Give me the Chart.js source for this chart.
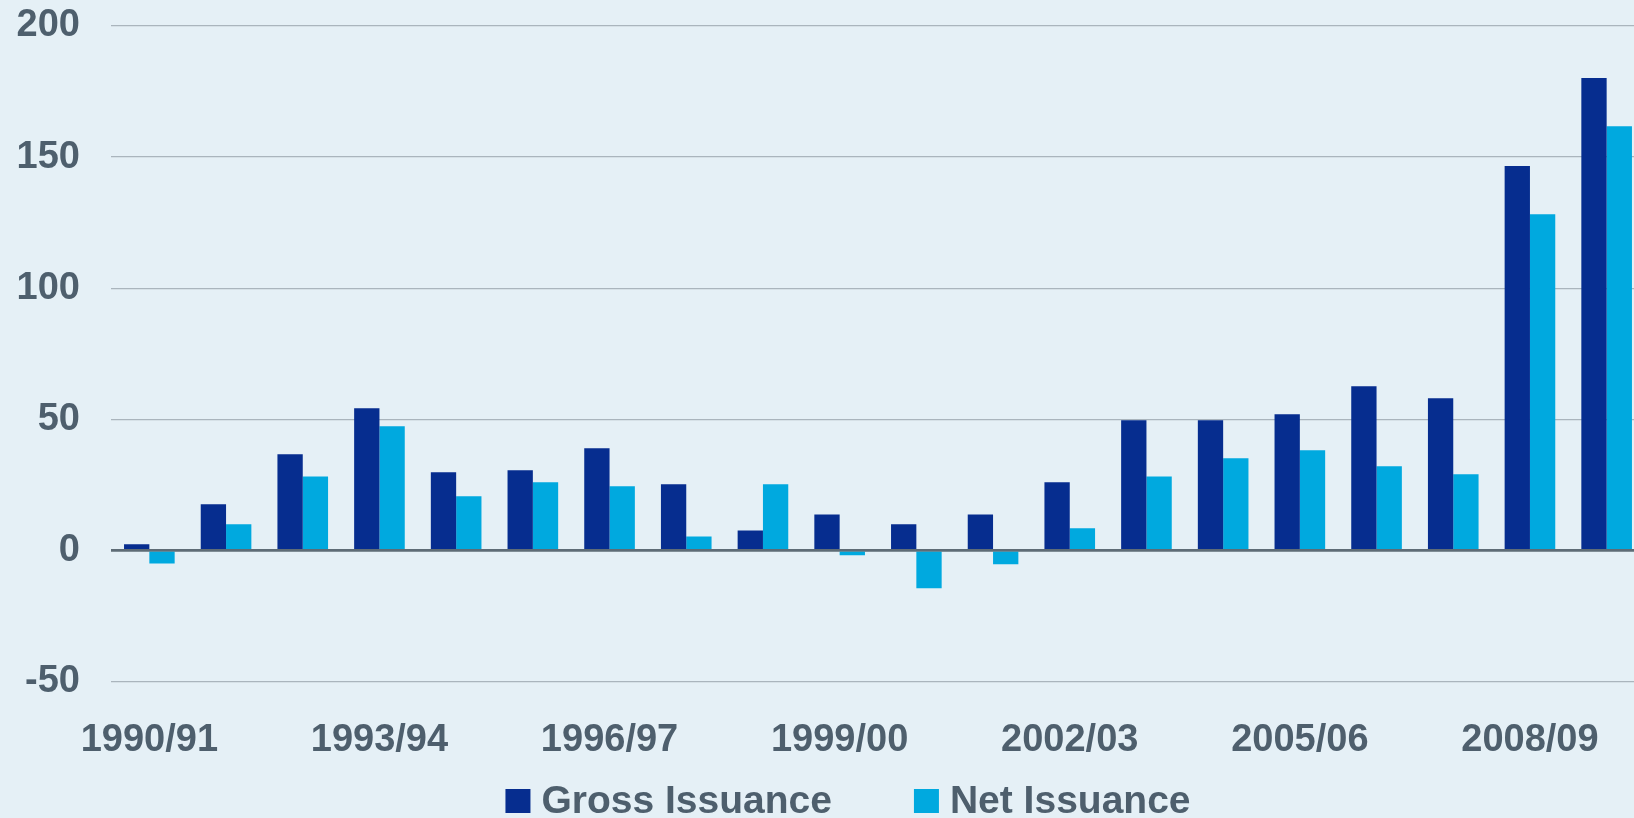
<!DOCTYPE html>
<html>
<head>
<meta charset="utf-8">
<script src="https://cdn.jsdelivr.net/npm/chart.js@4"></script>
<style>
  html, body { margin: 0; padding: 0; background: #e5f0f6; overflow: hidden; }
  #wrap { width: 1645px; height: 818px; }
</style>
</head>
<body>
<div id="wrap"><canvas id="chart" width="1645" height="818"></canvas></div>
<script>
const categories = ["1990/91","1991/92","1992/93","1993/94","1994/95","1995/96","1996/97","1997/98","1998/99","1999/00",
                    "2000/01","2001/02","2002/03","2003/04","2004/05","2005/06","2006/07","2007/08","2008/09","2009/10"];
const shownTicks = ["1990/91","1993/94","1996/97","1999/00","2002/03","2005/06","2008/09"];
const grossIssuance = [2.3, 17.6, 36.6, 54.2, 29.8, 30.5, 38.9, 25.2, 7.6, 13.7, 9.9, 13.7, 26.0, 49.6, 49.6, 51.9, 62.6, 58.0, 146.6, 180.2];
const netIssuance = [-5.0, 9.9, 28.2, 47.3, 20.6, 26.0, 24.4, 5.3, 25.2, -1.9, -14.5, -5.3, 8.4, 28.2, 35.1, 38.2, 32.1, 29.0, 128.2, 161.8];
const yTicks = [-50, 0, 50, 100, 150, 200];

const FONT = "'Liberation Sans', Arial, sans-serif";
const TEXT = "#4e5f6d";
const ZERO_LINE = "#5e6c76";

// zero line sits on top of the bars in the original
const zeroLinePlugin = {
  id: 'zeroLine',
  afterDatasetsDraw(chart) {
    const { ctx: c, chartArea: a, scales: { y } } = chart;
    const py = y.getPixelForValue(0);
    c.save();
    c.strokeStyle = ZERO_LINE;
    c.lineWidth = 2.5;
    c.beginPath();
    c.moveTo(a.left, py);
    c.lineTo(a.right, py);
    c.stroke();
    c.restore();
  }
};

// legend drawn under the axis, centred like the original slide
const legendPlugin = {
  id: 'issuanceLegend',
  afterDraw(chart) {
    const c = chart.ctx;
    c.save();
    c.font = 'bold 39px ' + FONT;
    c.textBaseline = 'middle';
    const items = chart.data.datasets.map(ds => ({ text: ds.label, color: ds.backgroundColor, w: c.measureText(ds.label).width }));
    const box = 25, gapText = 11, gapItem = 82;
    const total = items.reduce((s, it) => s + box + gapText + it.w, 0) + gapItem * (items.length - 1);
    let x = 848 - total / 2;
    const cy = 801;
    items.forEach(it => {
      c.fillStyle = it.color;
      c.fillRect(x, cy - 12, box, 24);
      c.fillStyle = TEXT;
      c.fillText(it.text, x + box + gapText, cy + 1);
      x += box + gapText + it.w + gapItem;
    });
    c.restore();
  }
};

const ctx = document.getElementById('chart').getContext('2d');
new Chart(ctx, {
  type: 'bar',
  data: {
    labels: categories,
    datasets: [
      { label: 'Gross Issuance', data: grossIssuance, backgroundColor: '#062d8f' },
      { label: 'Net Issuance', data: netIssuance, backgroundColor: '#00a9df' }
    ]
  },
  plugins: [zeroLinePlugin, legendPlugin],
  options: {
    responsive: false,
    animation: false,
    layout: { padding: { left: 0, right: 0, top: 0, bottom: 19 } },
    datasets: { bar: { categoryPercentage: 0.66, barPercentage: 1.0 } },
    scales: {
      x: {
        grid: { display: false, drawTicks: false },
        border: { display: false },
        ticks: {
          autoSkip: false, maxRotation: 0, padding: 36,
          color: TEXT, font: { family: FONT, size: 38, weight: 'bold' },
          callback: (v, i) => shownTicks.includes(categories[i]) ? categories[i] : ''
        }
      },
      y: {
        min: -50, max: 200,
        afterFit: (s) => { s.width = 111; s.paddingTop = 26; s.paddingBottom = 25; },
        afterBuildTicks: (s) => { s.ticks = yTicks.map(v => ({ value: v })); },
        border: { display: false },
        grid: {
          drawTicks: false,
          color: (c) => c.tick && c.tick.value === 0 ? ZERO_LINE : '#aab5bd',
          lineWidth: (c) => c.tick && c.tick.value === 0 ? 2.5 : 1.2
        },
        ticks: {
          padding: 31,
          color: TEXT, font: { family: FONT, size: 38, weight: 'bold' }
        }
      }
    },
    plugins: {
      legend: { display: false },
      tooltip: { enabled: false }
    }
  }
});
</script>
</body>
</html>
